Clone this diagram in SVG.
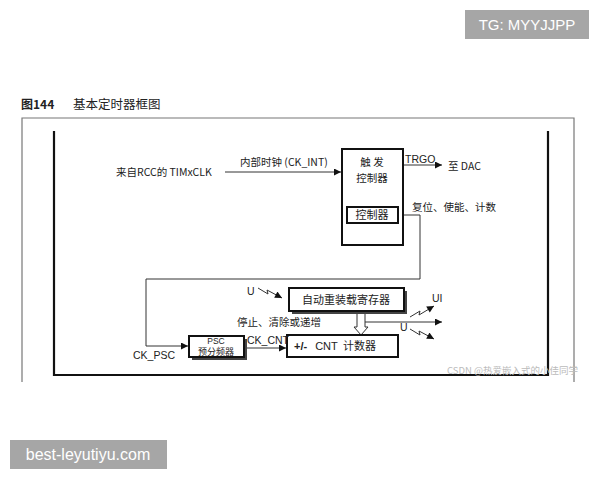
<svg xmlns="http://www.w3.org/2000/svg" width="600" height="480" viewBox="0 0 600 480">
<style>
text{font-family:"Liberation Sans","Noto Sans CJK SC",sans-serif;fill:#222}
.cn{font-family:"Noto Sans CJK SC","Liberation Sans",sans-serif}
.ln{fill:none;stroke:#333;stroke-width:1}
.box{fill:#fff;stroke:#111;stroke-width:2}
.shadow{fill:#444}
.wm{font-family:"Liberation Sans",sans-serif}
</style>
<defs>
<marker id="ah" viewBox="0 0 10 10" refX="10" refY="5" markerWidth="9" markerHeight="7" orient="auto" markerUnits="userSpaceOnUse">
<path d="M0,0 L10,5 L0,10 Z" fill="#111"/>
</marker>
</defs>
<rect width="600" height="480" fill="#fff"/>

<!-- watermark boxes -->
<rect x="465" y="10" width="124" height="29" fill="#a6a6a6"/>
<text class="wm" x="527" y="30" font-size="15" text-anchor="middle" style="fill:#fff">TG: MYYJJPP</text>
<rect x="10" y="440" width="157" height="29" fill="#a6a6a6"/>
<text class="wm" x="88" y="460" font-size="16" text-anchor="middle" style="fill:#fff">best-leyutiyu.com</text>

<!-- title -->
<text x="21" y="109" class="cn" font-size="12" font-weight="bold">图144</text>
<text x="73" y="109" class="cn" font-size="12.5">基本定时器框图</text>

<!-- outer frame -->
<path d="M22,382 V118 H574 V382" fill="none" stroke="#777" stroke-width="1.2"/>
<!-- inner thick frame -->
<path d="M54,131 V375 H548 V131" fill="none" stroke="#111" stroke-width="2.2"/>

<g id="connectors">
<path class="ln" d="M225,172 H341" marker-end="url(#ah)"/>
<path class="ln" d="M403,165 H442" marker-end="url(#ah)"/>
<path class="ln" d="M398,215 H420 V279 H146 V346 H188" marker-end="url(#ah)"/>
<path class="ln" d="M246,348 H286" marker-end="url(#ah)"/>
<path class="ln" d="M365,322 H442" marker-end="url(#ah)"/>
<path fill="#fff" stroke="#333" stroke-width="1" d="M357,313 V327 H354 L361,335 L368,327 H365 V313"/>
<path class="ln" d="M258,288 L268,294 L267,290 L282,298" marker-end="url(#ah)"/>
<path class="ln" d="M410,317 L420,311 L419,315 L434,306" marker-end="url(#ah)"/>
<path class="ln" d="M410,329 L420,335 L419,331 L434,339" marker-end="url(#ah)"/>
</g>

<g id="trigger">
<rect class="box" x="342" y="149" width="61" height="96" stroke-width="2.5"/>
<text class="cn" x="372" y="166" font-size="10.5" text-anchor="middle">触 发</text>
<text class="cn" x="372" y="182" font-size="10.5" text-anchor="middle">控制器</text>
</g>
<g id="controller">
<rect class="box" x="347" y="207" width="51" height="16"/>
<text class="cn" x="372" y="219" font-size="11" text-anchor="middle">控制器</text>
</g>

<g id="reload">
<rect class="shadow" x="292" y="291" width="115" height="23"/>
<rect class="box" x="289" y="288" width="115" height="23" stroke-width="1.5"/>
<text class="cn" x="346" y="304" font-size="11" text-anchor="middle">自动重装载寄存器</text>
</g>

<g id="psc">
<rect class="shadow" x="192" y="339" width="55" height="21"/>
<rect class="box" x="189" y="336" width="55" height="21" stroke-width="1.5"/>
<text x="216" y="344" font-size="8.5" text-anchor="middle">PSC</text>
<text class="cn" x="216" y="355" font-size="9" text-anchor="middle">预分频器</text>
</g>

<g id="cnt">
<rect class="box" x="287" y="335" width="111" height="22" stroke-width="1.5"/>
<text x="294" y="350" font-size="11"><tspan font-weight="bold">+/-</tspan><tspan dx="8">CNT</tspan></text>
<text class="cn" x="343" y="350" font-size="11">计数器</text>
</g>

<!-- labels -->
<text class="cn" x="116" y="176" font-size="10.5">来自RCC的 TIMxCLK</text>
<text class="cn" x="240" y="166" font-size="10.5">内部时钟 (CK_INT)</text>
<text x="405" y="163" font-size="10.5">TRGO</text>
<text class="cn" x="448" y="170" font-size="10.5">至 DAC</text>
<text class="cn" x="412" y="211" font-size="10.5">复位、使能、计数</text>
<text x="133" y="359" font-size="10.5">CK_PSC</text>
<text x="247" y="344" font-size="10.5">CK_CNT</text>
<text class="cn" x="237" y="326" font-size="10.5">停止、清除或递增</text>
<text x="247" y="295" font-size="10.5">U</text>
<text x="432" y="302" font-size="10.5">UI</text>
<text x="400" y="331" font-size="10.5">U</text>
<text class="cn" x="447" y="374" font-size="9.5" style="fill:#bbb">CSDN @热爱嵌入式的小佳同学</text>
</svg>
